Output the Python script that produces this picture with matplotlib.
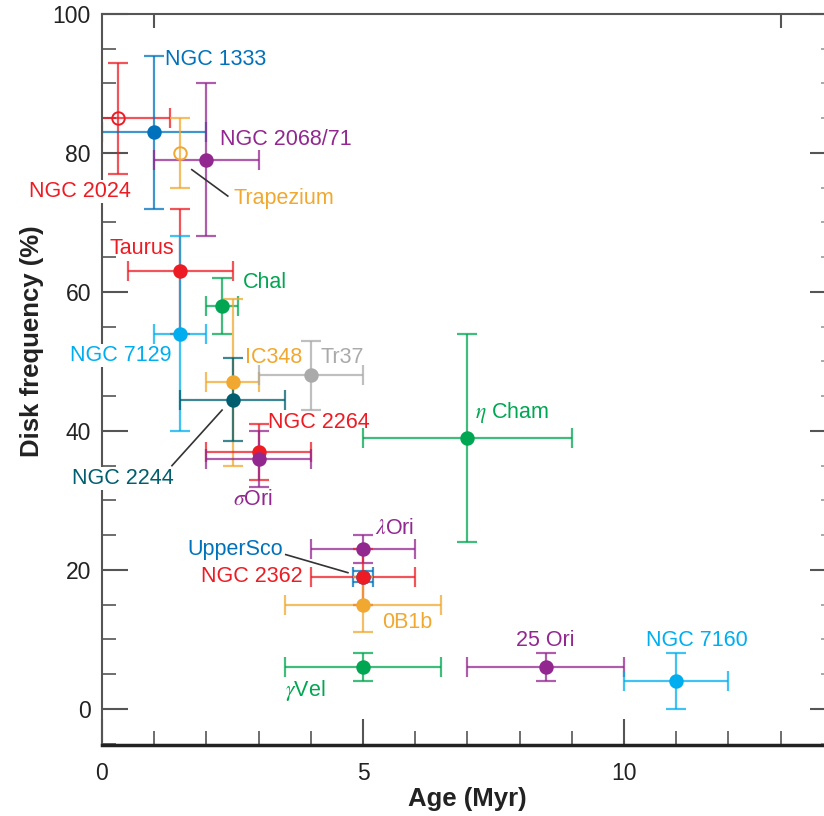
import numpy as np
import matplotlib
matplotlib.use('Agg')
import matplotlib.pyplot as plt
from matplotlib.ticker import MultipleLocator, FixedLocator, NullLocator

plt.rcParams['font.family'] = ['Liberation Sans', 'DejaVu Sans']
plt.rcParams['mathtext.fontset'] = 'stix'

# cluster ages (Myr) and disk fractions (%)
names = ['NGC 2024', 'NGC 1333', 'NGC 2068/71', 'Trapezium', 'Taurus', 'Chal',
         'NGC 7129', 'IC348', 'Tr37', 'NGC 2244', 'NGC 2264', r'$\sigma$Ori',
         r'$\eta$ Cham', r'$\lambda$Ori', 'UpperSco', 'NGC 2362', '0B1b',
         r'$\gamma$Vel', '25 Ori', 'NGC 7160']
age = [0.3, 1.0, 2.0, 1.5, 1.5, 2.3, 1.5, 2.5, 4.0, 2.5, 3.0, 3.0,
       7.0, 5.0, 5.0, 5.0, 5.0, 5.0, 8.5, 11.0]
age_err = [1.0, 1.0, 1.0, 0.0, 1.0, 0.3, 0.5, 0.5, 1.0, 1.0, 1.0, 1.0,
           2.0, 1.0, 0.2, 1.0, 1.5, 1.5, 1.5, 1.0]
freq = [85, 83, 79, 80, 63, 58, 54, 47, 48, 44.5, 37, 36,
        39, 23, 19, 19, 15, 6, 6, 4]
freq_err = [8, 11, 11, 5, 9, 4, 14, 12, 5, 6, 4, 4,
            15, 2, 0.8, 4, 4, 2, 2, 4]
colors = ['#ED1C24', '#0072BC', '#92278F', '#F0A830', '#ED1C24', '#00A651',
          '#00AEEF', '#F0A830', '#AAAAAA', '#005E6E', '#ED1C24', '#92278F',
          '#00A651', '#92278F', '#0072BC', '#ED1C24', '#F0A830', '#00A651',
          '#92278F', '#00AEEF']
hollow = ['NGC 2024', 'Trapezium']

# where each name is written: (x, y, ha)
label_pos = {
    'NGC 2024': (-0.42, 74.4, 'center'),
    'NGC 1333': (1.21, 93.4, 'left'),
    'NGC 2068/71': (2.26, 81.9, 'left'),
    'Trapezium': (2.51, 73.4, 'left'),
    'Taurus': (0.15, 66.3, 'left'),
    'Chal': (2.70, 61.4, 'left'),
    'NGC 7129': (0.36, 50.8, 'center'),
    'IC348': (2.74, 50.6, 'left'),
    'Tr37': (4.18, 50.6, 'left'),
    'NGC 2244': (0.40, 33.2, 'center'),
    'NGC 2264': (3.18, 41.2, 'left'),
    r'$\sigma$Ori': (2.51, 30.1, 'left'),
    r'$\eta$ Cham': (7.15, 42.7, 'left'),
    r'$\lambda$Ori': (5.23, 26.0, 'left'),
    'UpperSco': (3.47, 22.9, 'right'),
    'NGC 2362': (3.85, 19.0, 'right'),
    '0B1b': (5.36, 12.5, 'left'),
    r'$\gamma$Vel': (3.50, 2.7, 'left'),
    '25 Ori': (8.50, 9.9, 'center'),
    'NGC 7160': (11.40, 9.9, 'center'),
}
# labels that sit over the y axis get a white patch behind them
boxed = ['NGC 2024', 'NGC 7129', 'NGC 2244']

leaders = [((1.72, 77.6), (2.41, 73.8)),
           ((2.30, 43.0), (1.34, 35.0)),
           ((3.52, 22.2), (4.71, 19.6))]

fig = plt.figure(figsize=(8.24, 8.16), dpi=100)
ax = fig.add_axes([102/824, 71/816, 722/824, 731/816])

for n, x, xe, y, ye, c in zip(names, age, age_err, freq, freq_err, colors):
    open_marker = n in hollow
    ax.errorbar(x, y, xerr=xe if xe > 0 else None, yerr=ye, fmt='none',
                ecolor=c, elinewidth=1.6, capsize=7, capthick=1.6,
                alpha=0.75, zorder=2)
    ax.plot(x, y, 'o', ms=9, mec=c, mew=1.4,
            mfc='none' if open_marker else c, zorder=3)
    tx, ty, ha = label_pos[n]
    kw = dict(boxstyle='square,pad=0.05', fc='white', ec='none') if n in boxed else None
    ax.text(tx, ty, n, color=c, fontsize=15.5, ha=ha, va='center',
            bbox=kw, zorder=5, clip_on=False)

for (x0, y0), (x1, y1) in leaders:
    ax.plot([x0, x1], [y0, y1], color='#333333', lw=1.2, zorder=4)

ax.set_xlim(0, 13.83)
ax.set_ylim(-5.2, 100)

ax.xaxis.set_major_locator(MultipleLocator(5))
ax.xaxis.set_minor_locator(MultipleLocator(1))
ax.yaxis.set_major_locator(FixedLocator([0, 20, 40, 60, 80, 100]))
ax.yaxis.set_minor_locator(MultipleLocator(5))

ax.tick_params(which='major', direction='in', length=19, width=1.5,
               color='#555555', labelsize=16.5, labelcolor='#222222')
ax.tick_params(axis='x', which='major', pad=12)
ax.tick_params(axis='y', which='major', pad=8)
ax.tick_params(which='minor', direction='in', length=10, width=1.2,
               color='#555555')

# short tick marks along the top and right edges
top = ax.secondary_xaxis('top')
top.xaxis.set_major_locator(FixedLocator([1, 13]))
top.xaxis.set_minor_locator(NullLocator())
top.tick_params(direction='in', length=10, width=1.5, color='#555555',
                labeltop=False)
top.spines['top'].set_visible(False)

right = ax.secondary_yaxis('right')
right.yaxis.set_major_locator(FixedLocator([0, 20, 40, 60, 80, 100]))
right.yaxis.set_minor_locator(MultipleLocator(5))
right.tick_params(which='major', direction='in', length=10, width=1.5,
                  color='#555555', labelright=False)
right.tick_params(which='minor', direction='in', length=2, width=1.2,
                  color='#999999')
right.spines['right'].set_visible(False)

ax.spines['left'].set_color('#555555')
ax.spines['left'].set_linewidth(1.5)
ax.spines['top'].set_color('#555555')
ax.spines['top'].set_linewidth(1.5)
ax.spines['bottom'].set_color('#222222')
ax.spines['bottom'].set_linewidth(2.5)
ax.spines['right'].set_visible(False)

ax.set_ylabel('Disk frequency (%)', fontsize=18.5, fontweight='bold', color='#222222')
ax.set_xlabel('Age (Myr)', fontsize=18.5, fontweight='bold', color='#222222')
ax.yaxis.set_label_coords(-0.081, 0.553)
ax.xaxis.set_label_coords(0.506, -0.058)

fig.savefig('out.png', dpi=100)
